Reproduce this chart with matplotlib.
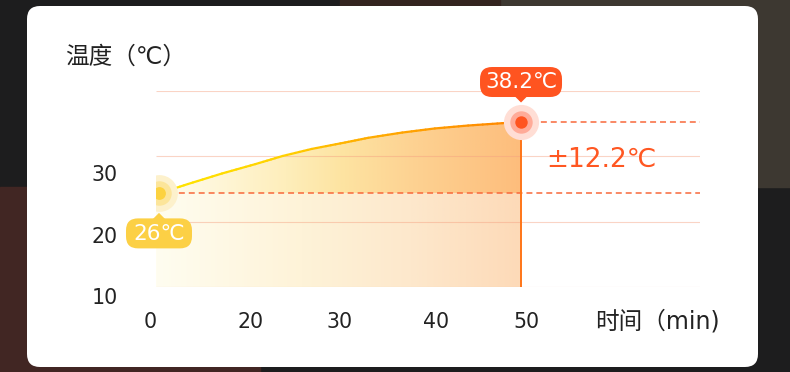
import numpy as np
import matplotlib
matplotlib.use("Agg")
import matplotlib.pyplot as plt
import matplotlib.transforms as mtransforms
from matplotlib.patches import FancyBboxPatch, Rectangle, Polygon
from matplotlib.collections import LineCollection
from matplotlib.colors import LinearSegmentedColormap

plt.rcParams['font.family'] = ['DejaVu Sans', 'Noto Sans CJK SC']

# data
time = [0, 4.0, 8.7, 13.3, 17.1, 21.1, 25.7, 28.9, 33.6, 38.1, 42.7, 47.4, 50]
temp = [26.0, 27.6, 29.4, 31.0, 32.4, 33.6, 34.7, 35.5, 36.4, 37.1, 37.6, 38.0, 38.2]
base_temp = 10
xtick_labels = ['0', '20', '30', '40', '50']
xtick_pos = [-1.2, 12.7, 25.0, 38.3, 50.8]
ytick_labels = ['10', '20', '30']
ytick_pos = [8.1, 18.5, 29.2]
y_title = '温度（℃）'
x_title = '时间（min)'

W, H = 790, 372
fig = plt.figure(figsize=(W / 100, H / 100), dpi=100)
fig.patch.set_facecolor('#1d1d1e')
inch = fig.dpi_scale_trans

# backdrop behind the card
fig.add_artist(Rectangle((0, 0), 2.6, 1.85, color='#412623', transform=inch, zorder=-3))
fig.add_artist(Rectangle((5.0, 1.85), 2.9, 1.87, color='#3d3831', transform=inch, zorder=-3))
fig.add_artist(Rectangle((3.4, 3.6), 1.6, 0.12, color='#33241f', transform=inch, zorder=-3))

# white card
fig.add_artist(FancyBboxPatch((0.27, 0.05), 7.31, 3.61,
                              boxstyle='round,pad=0,rounding_size=0.13',
                              fc='white', ec='none', transform=inch, zorder=-2))

ax = fig.add_axes([156 / W, 1 - 287 / H, 544 / W, 196 / H])
ax.patch.set_visible(False)
for s in ax.spines.values():
    s.set_visible(False)
xmin, xmax = -0.414, 74.72
ymin, ymax = base_temp, 43.5

start_t, start_v = time[0], temp[0]
peak_t, peak_v = time[-1], temp[-1]

# gradient fills
grad = np.linspace(0, 1, 256).reshape(1, -1)
upper_cmap = LinearSegmentedColormap.from_list('up', [
    (0, '#fffdf0'), (0.35, '#feeebb'), (0.5, '#fde4a2'), (0.7, '#fdd292'), (1, '#fdbd7c')])
lower_cmap = LinearSegmentedColormap.from_list('low', [
    (0, '#fffdf0'), (0.4, '#fef3d8'), (0.7, '#fde8cc'), (1, '#fddab8')])

upper_poly = Polygon(list(zip(time, temp)) + [(peak_t, start_v), (start_t, start_v)],
                     closed=True, fc='none', ec='none', transform=ax.transData)
lower_poly = Polygon([(start_t - 0.4, base_temp), (peak_t, base_temp), (peak_t, start_v), (start_t - 0.4, start_v)],
                     closed=True, fc='none', ec='none', transform=ax.transData)
ax.add_patch(upper_poly)
ax.add_patch(lower_poly)
im1 = ax.imshow(grad, cmap=upper_cmap, aspect='auto', extent=[start_t, peak_t, start_v, peak_v],
                origin='lower', zorder=1)
im1.set_clip_path(upper_poly)
im2 = ax.imshow(grad, cmap=lower_cmap, aspect='auto', extent=[start_t - 0.4, peak_t, base_temp, start_v],
                origin='lower', zorder=1)
im2.set_clip_path(lower_poly)

# grid
ax.hlines(np.linspace(ymin, ymax, 4), xmin, xmax, color='#f5a080', alpha=0.45, lw=0.8, zorder=2)

# dashed reference lines
dash = (0, (3.9, 2.6))
ax.hlines(start_v, start_t, xmax, color='#f8683a', lw=1.1, linestyle=dash, zorder=3)
ax.hlines(peak_v, peak_t, xmax, color='#f8683a', lw=1.1, linestyle=dash, zorder=3)
ax.vlines(peak_t, base_temp, peak_v, color='#ff7518', lw=1.4, zorder=3)

# curve with colour gradient along x
line_cmap = LinearSegmentedColormap.from_list('ln', [
    (0, '#ffe600'), (0.35, '#ffd000'), (0.5, '#ffb400'), (1, '#ff8400')])
segs, cols = [], []
for i in range(len(time) - 1):
    tt = np.linspace(time[i], time[i + 1], 8)
    vv = np.linspace(temp[i], temp[i + 1], 8)
    for j in range(7):
        segs.append([(tt[j], vv[j]), (tt[j + 1], vv[j + 1])])
        cols.append(line_cmap((tt[j] - start_t) / (peak_t - start_t)))
ax.add_collection(LineCollection(segs, colors=cols, lw=1.6, capstyle='round', zorder=4))

# markers with halos
ax.scatter([start_t], [start_v], s=700, color='#fdf1cc', zorder=5, lw=0)
ax.scatter([start_t], [start_v], s=310, color='#fce59a', zorder=5, lw=0)
ax.scatter([start_t], [start_v], s=85, color='#fcd240', zorder=6, lw=0)
ax.scatter([peak_t], [peak_v], s=640, color='#ffded5', zorder=5, lw=0)
ax.scatter([peak_t], [peak_v], s=260, color='#ffab98', zorder=5, lw=0)
ax.scatter([peak_t], [peak_v], s=80, color='#ff5420', zorder=6, lw=0)


def badge(x, y, text, color, w, above):
    tr = inch + mtransforms.ScaledTranslation(x, y, ax.transData)
    sign = 1 if above else -1
    y0 = 0.25 if above else -0.55
    ax.add_patch(FancyBboxPatch((-w / 2, y0), w, 0.30, boxstyle='round,pad=0,rounding_size=0.12',
                                fc=color, ec='none', transform=tr, zorder=7, clip_on=False))
    ax.add_patch(Polygon([(-0.065, sign * 0.26), (0.065, sign * 0.26), (0, sign * 0.195)],
                         closed=True, fc=color, ec='none', transform=tr, zorder=7, clip_on=False))
    ax.annotate(text, xy=(x, y), xytext=(0, sign * 29), textcoords='offset points',
                ha='center', va='center', color='white', fontsize=15.5, zorder=8)


badge(peak_t, peak_v, f'{peak_v:g}℃', '#ff5420', 0.82, True)
badge(start_t, start_v, f'{start_v:g}℃', '#fcd045', 0.66, False)

ax.annotate(f'±{peak_v - start_v:.1f}℃', xy=(peak_t, (peak_v + start_v) / 2),
            xytext=(18, -1.5), textcoords='offset points', ha='left', va='center',
            color='#ff5722', fontsize=19)

# tick labels
for lab, pos in zip(xtick_labels, xtick_pos):
    ax.annotate(lab, xy=(pos, 0), xycoords=('data', 'axes fraction'), xytext=(0, -25),
                textcoords='offset points', ha='center', va='center', fontsize=14.8,
                color='#222222', annotation_clip=False)
for lab, pos in zip(ytick_labels, ytick_pos):
    ax.annotate(lab, xy=(0, pos), xycoords=('axes fraction', 'data'), xytext=(-27.5, 0),
                textcoords='offset points', ha='right', va='center', fontsize=14.8,
                color='#222222', annotation_clip=False)

fig.text(65 / W, 1 - 57 / H, y_title, ha='left', va='center', fontsize=17, color='#222222')
fig.text(595 / W, 1 - 322 / H, x_title, ha='left', va='center', fontsize=17, color='#222222')

ax.set_xlim(xmin, xmax)
ax.set_ylim(ymin, ymax)
ax.set_xticks([])
ax.set_yticks([])

fig.savefig('out.png', dpi=100, facecolor=fig.get_facecolor())
